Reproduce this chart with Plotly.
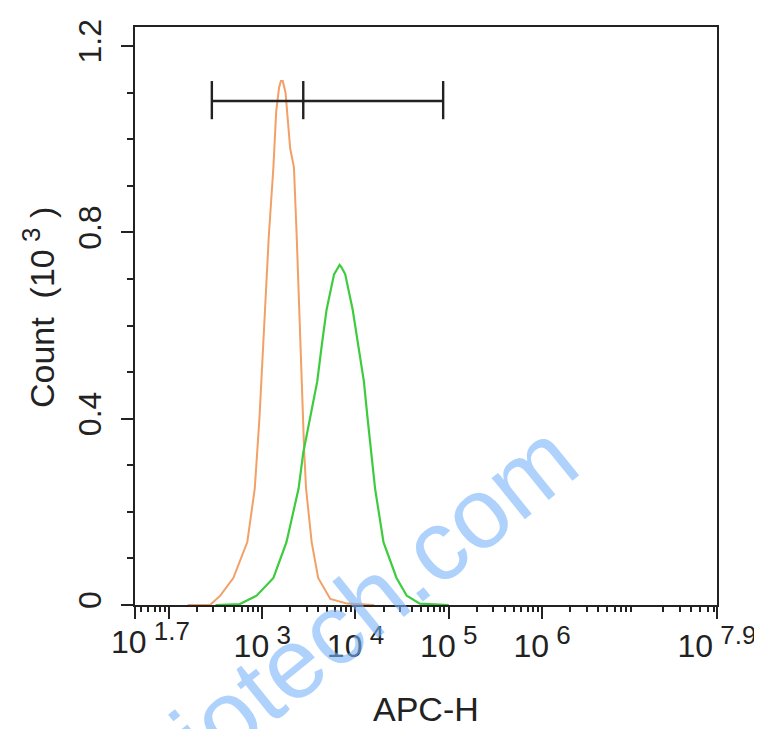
import numpy as np
import plotly.graph_objects as go

# ---- data ----
# x values given as log10(APC-H); y values in Count (10^3)
orange_log = [2.20, 2.44, 2.55, 2.69, 2.84, 2.92, 2.97, 3.01, 3.07, 3.12, 3.15, 3.18, 3.20, 3.22, 3.25,
              3.30, 3.34, 3.37, 3.41, 3.43, 3.45, 3.47, 3.53, 3.60, 3.73, 3.91, 4.20]
orange_cnt = [0.0, 0.0, 0.02, 0.058, 0.135, 0.25, 0.40, 0.56, 0.79, 0.94, 1.06, 1.11, 1.125, 1.125, 1.10,
              0.98, 0.94, 0.79, 0.56, 0.40, 0.33, 0.25, 0.135, 0.058, 0.013, 0.003, 0.0]

green_log = [2.50, 2.76, 2.94, 3.12, 3.26, 3.39, 3.44, 3.51, 3.59, 3.64, 3.69, 3.77, 3.81, 3.83, 3.85,
             3.89, 3.97, 4.03, 4.09, 4.13, 4.17, 4.21, 4.30, 4.44, 4.55, 4.69, 5.00]
green_cnt = [0.0, 0.002, 0.02, 0.058, 0.135, 0.25, 0.327, 0.40, 0.48, 0.56, 0.634, 0.71, 0.725, 0.73, 0.725,
             0.71, 0.634, 0.56, 0.48, 0.40, 0.327, 0.25, 0.135, 0.058, 0.02, 0.003, 0.0]

gate_log = [2.46, 3.44, 4.94]   # gate boundaries (log10)
gate_y = 1.082
gate_cap = [1.043, 1.125]

y_ticks = [0, 0.4, 0.8, 1.2]
y_ticklabels = ["0", "0.4", "0.8", "1.2"]
x_major_log = [1.637, 2, 3, 4, 5, 6, 7.875]
x_major_exp = ["", "", "3", "4", "5", "6", "7.9"]

XMIN, XMAX = 1.636, 7.876
YMAX = 1.241

FONT = "Liberation Sans, Arial, sans-serif"
INK = "#222222"
FS = 32
SUP = 26


def pow10(e):
    return f"10<sup><span style='font-size:{SUP}px'> {e}</span></sup>" if e else ""


fig = go.Figure()
fig.add_trace(go.Scatter(x=[10 ** v for v in orange_log], y=orange_cnt, mode="lines",
                         line=dict(color="#F2A066", width=2), showlegend=False))
fig.add_trace(go.Scatter(x=[10 ** v for v in green_log], y=green_cnt, mode="lines",
                         line=dict(color="#3DCC3D", width=2.2), showlegend=False))

# gate bars
fig.add_trace(go.Scatter(x=[10 ** gate_log[0], 10 ** gate_log[2]], y=[gate_y, gate_y], mode="lines",
                         line=dict(color=INK, width=2.4), showlegend=False))
for g in gate_log:
    fig.add_trace(go.Scatter(x=[10 ** g, 10 ** g], y=gate_cap, mode="lines",
                             line=dict(color=INK, width=2.4), showlegend=False))

minor_x = [m * 10 ** d for d in range(1, 8) for m in range(2, 10)
           if XMIN < np.log10(m * 10 ** d) < XMAX]
minor_y = [round(0.1 * i, 2) for i in range(0, 13) if round(0.1 * i, 2) not in y_ticks]

# page has an 8px body margin: work in screen pixels, subtract offset
OFF = 8
W, H = 762 - OFF, 729 - OFF
L, R, T, B = 135 - OFF, 717 - OFF, 27 - OFF, 605 - OFF


def px(x):
    return (x - OFF - L) / (R - L)


def py(y):
    return (B - (y - OFF)) / (B - T)


def ann(text, x, y, size=FS, angle=0, color=INK, family=FONT):
    return dict(text=text, x=px(x), y=py(y), xref="paper", yref="paper", showarrow=False,
                xanchor="center", yanchor="middle", textangle=angle,
                font=dict(family=family, size=size, color=color))


fig.update_layout(
    width=W, height=H,
    margin=dict(l=L, r=W - R, t=T, b=H - B, autoexpand=False),
    paper_bgcolor="white", plot_bgcolor="white",
    font=dict(family=FONT, size=FS, color=INK),
    xaxis=dict(type="log", range=[XMIN, XMAX], showgrid=False, zeroline=False, automargin=False,
               showline=True, linecolor=INK, linewidth=2, mirror=True,
               tickmode="array", tickvals=[10 ** v for v in x_major_log],
               ticktext=[pow10(e) if i > 1 else "" for i, e in enumerate(x_major_exp)],
               ticks="outside", ticklen=12, tickwidth=2, tickcolor=INK,
               tickfont=dict(family=FONT, size=FS, color=INK),
               minor=dict(tickmode="array", tickvals=minor_x, ticks="outside", ticklen=5,
                          tickwidth=1.5, tickcolor=INK)),
    yaxis=dict(range=[0, YMAX], showgrid=False, zeroline=False, automargin=False,
               showline=True, linecolor=INK, linewidth=2, mirror=True,
               tickmode="array", tickvals=y_ticks, ticktext=y_ticklabels, tickangle=-90,
               ticks="outside", ticklen=12, tickwidth=2, tickcolor=INK,
               tickfont=dict(family=FONT, size=FS, color=INK), ticklabelstandoff=7,
               minor=dict(tickmode="array", tickvals=minor_y, ticks="outside", ticklen=6,
                          tickwidth=1.5, tickcolor=INK)),
    annotations=[
        ann(pow10("1.7"), 150, 638),
        ann("APC-H", 426, 709, size=34),
        ann(f"Count  (10<sup><span style='font-size:{SUP}px'> 3</span></sup> )", 38, 308, size=34,
            angle=-90),
        ann("affbiotech.com", 310, 648, size=100, angle=-39, color="rgba(120,180,250,0.6)"),
    ],
)

fig.write_html("out.html")
